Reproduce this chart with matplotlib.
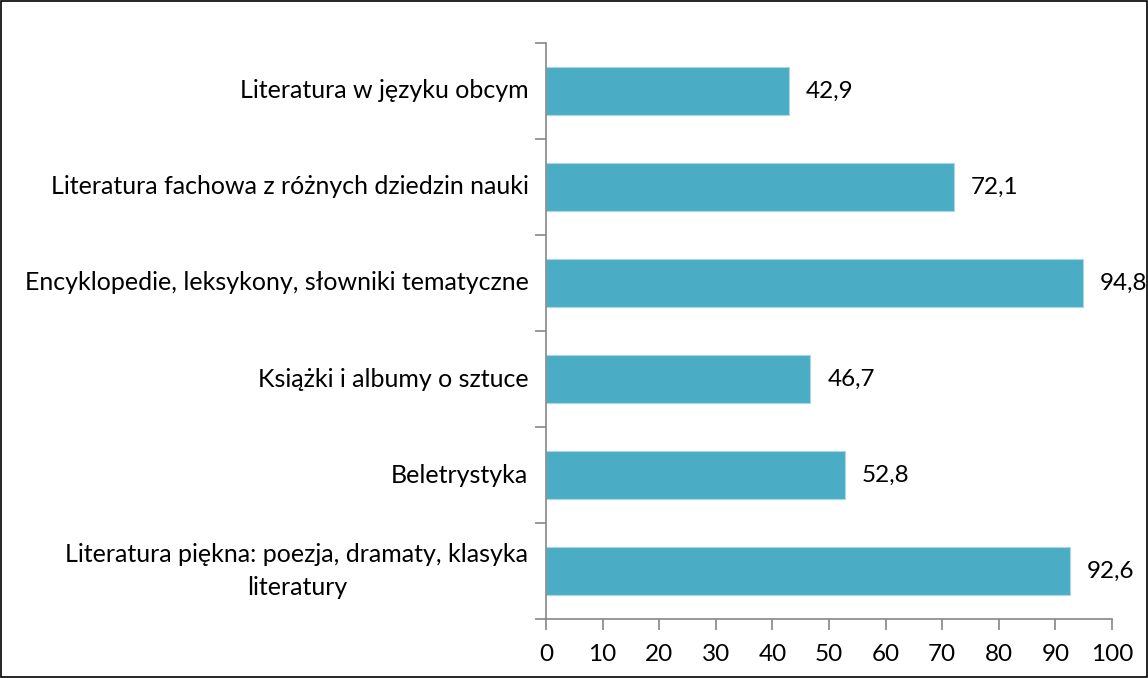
import matplotlib.pyplot as plt
from matplotlib.patches import Rectangle

categories = [
    'Literatura w języku obcym',
    'Literatura fachowa z różnych dziedzin nauki',
    'Encyklopedie, leksykony, słowniki tematyczne',
    'Książki i albumy o sztuce',
    'Beletrystyka',
    'Literatura piękna: poezja, dramaty, klasyka\nliteratury',
]
values = [42.9, 72.1, 94.8, 46.7, 52.8, 92.6]
xticks = list(range(0, 101, 10))

plt.rcParams['font.family'] = ['Lato', 'DejaVu Sans']
bar_color = '#4BACC6'
axis_color = '#868686'

fig = plt.figure(figsize=(11.48, 6.78), dpi=100)
ax = fig.add_axes([0.4756, 0.087, 0.4930, 0.8496])

n = len(categories)
ypos = list(range(n))[::-1]
ax.barh(ypos, values, height=0.5, color=bar_color, edgecolor='#a9d8e4', linewidth=0.8)

for y, v in zip(ypos, values):
    ax.text(v + 3, y, f'{v:.1f}'.replace('.', ','), va='center', ha='left', fontsize=17.5)

ax.set_xlim(0, 100)
ax.set_ylim(-0.5, n - 0.5)
ax.set_xticks(xticks)
ax.set_xticklabels([str(t) for t in xticks], fontsize=17.5)

# category labels between boundary ticks
ax.set_yticks([y - 0.5 for y in range(n + 1)])
ax.set_yticklabels([])
for y, lab in zip(ypos, categories):
    ax.text(-3.1, y, lab, ha='right', va='center', multialignment='center',
            fontsize=18, linespacing=1.5)

for s in ['top', 'right']:
    ax.spines[s].set_visible(False)
for s in ['left', 'bottom']:
    ax.spines[s].set_color(axis_color)
    ax.spines[s].set_linewidth(1.2)
ax.tick_params(axis='both', colors=axis_color, length=8, width=1.2, direction='out')
ax.tick_params(axis='x', labelcolor='black', pad=10)

fig.patches.append(Rectangle((0.001, 0.001), 0.998, 0.998, transform=fig.transFigure,
                             fill=False, edgecolor='black', linewidth=1.2))

fig.savefig('out.png', dpi=100)
